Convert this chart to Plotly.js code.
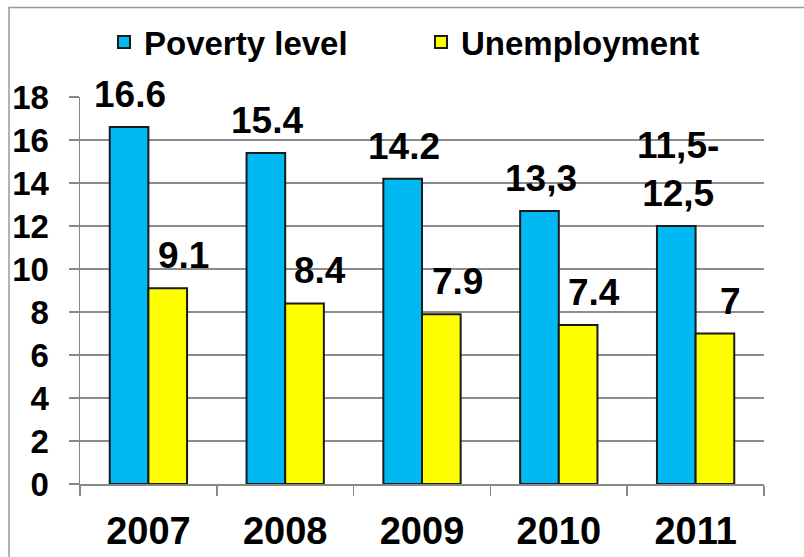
<!DOCTYPE html>
<html>
<head>
<meta charset="utf-8">
<script src="https://cdn.plot.ly/plotly-3.0.1.min.js"></script>
<style>
  html, body { margin: 0; padding: 0; background: #fff; }
  #chart { width: 804px; height: 557px; }
</style>
</head>
<body>
<div id="chart"></div>
<script>
// ---- data ----
const years = ['2007', '2008', '2009', '2010', '2011'];
const povertyLevel = [16.6, 15.4, 14.2, 12.7, 12.0];
const povertyLabels = ['16.6', '15.4', '14.2', '13,3', '11,5-<br>12,5'];
const unemployment = [9.1, 8.4, 7.9, 7.4, 7.0];
const unemploymentLabels = ['9.1', '8.4', '7.9', '7.4', '7'];
const yTicks = [0, 2, 4, 6, 8, 10, 12, 14, 16, 18];

// ---- layout constants ----
const ML = 80, MR = 40, MT = 97, MB = 73, W = 804, H = 557;
const PW = W - ML - MR, PH = H - MT - MB;
const px2x = p => (p - ML) / PW;
const px2y = p => (H - MB - p) / PH;

const fontFam = 'Arial, "Liberation Sans", sans-serif';
const barLine = { color: '#1a1a1a', width: 2 };

const traces = [
  {
    type: 'bar', name: 'Poverty level', x: years, y: povertyLevel,
    marker: { color: '#00B9F2', line: barLine },
    hoverinfo: 'x+y'
  },
  {
    type: 'bar', name: 'Unemployment', x: years, y: unemployment,
    marker: { color: '#FFFF00', line: barLine },
    hoverinfo: 'x+y'
  }
];

// category axes: annotations use the category serial number
const annotations = [];
years.forEach((yr, i) => {
  annotations.push({
    x: i, y: povertyLevel[i], xref: 'x', yref: 'y',
    text: povertyLabels[i], showarrow: false,
    xanchor: 'center', yanchor: 'bottom', xshift: -18, yshift: 10,
    font: { family: fontFam, size: 37, color: '#000', weight: 'bold' }
  });
  annotations.push({
    x: i, y: unemployment[i], xref: 'x', yref: 'y',
    text: unemploymentLabels[i], showarrow: false,
    xanchor: 'center', yanchor: 'bottom', xshift: 35, yshift: 10,
    font: { family: fontFam, size: 37, color: '#000', weight: 'bold' }
  });
});

const layout = {
  width: W, height: H,
  margin: { l: ML, r: MR, t: MT, b: MB, pad: 0 },
  paper_bgcolor: '#fff', plot_bgcolor: '#fff',
  barmode: 'group', bargap: 0.435, bargroupgap: 0,
  showlegend: true,
  legend: {
    orientation: 'h', x: px2x(104), xanchor: 'left',
    y: px2y(42), yanchor: 'middle',
    font: { family: fontFam, size: 33, color: '#000', weight: 'bold' },
    entrywidth: 272, entrywidthmode: 'pixels',
    bgcolor: 'rgba(0,0,0,0)'
  },
  xaxis: {
    type: 'category', range: [-0.5, 4.5],
    showline: true, linecolor: '#888', linewidth: 1.5,
    ticks: 'outside', tickson: 'boundaries', ticklen: 10, tickcolor: '#888', tickwidth: 1.5,
    tickfont: { family: fontFam, size: 38, color: '#000', weight: 'bold' },
    tickangle: 0, ticklabelstandoff: 13,
    showgrid: false, zeroline: false, fixedrange: true
  },
  yaxis: {
    range: [0, 18], tickvals: yTicks, ticktext: yTicks.map(String),
    showline: true, linecolor: '#888', linewidth: 1.5,
    ticks: 'outside', ticklen: 10, tickcolor: '#888', tickwidth: 1.5,
    showgrid: true, gridcolor: '#8c8c8c', gridwidth: 1.5,
    zeroline: false,
    tickfont: { family: fontFam, size: 33, color: '#000', weight: 'bold' },
    ticklabelstandoff: 13, fixedrange: true
  },
  annotations: annotations,
  shapes: [{
    type: 'rect', xref: 'paper', yref: 'paper',
    x0: px2x(9), x1: px2x(830), y0: px2y(580), y1: px2y(7.5),
    line: { color: '#999', width: 1.5 }, fillcolor: 'rgba(0,0,0,0)', layer: 'below'
  }]
};

Plotly.newPlot('chart', traces, layout, { displayModeBar: false, staticPlot: true });
</script>
</body>
</html>
